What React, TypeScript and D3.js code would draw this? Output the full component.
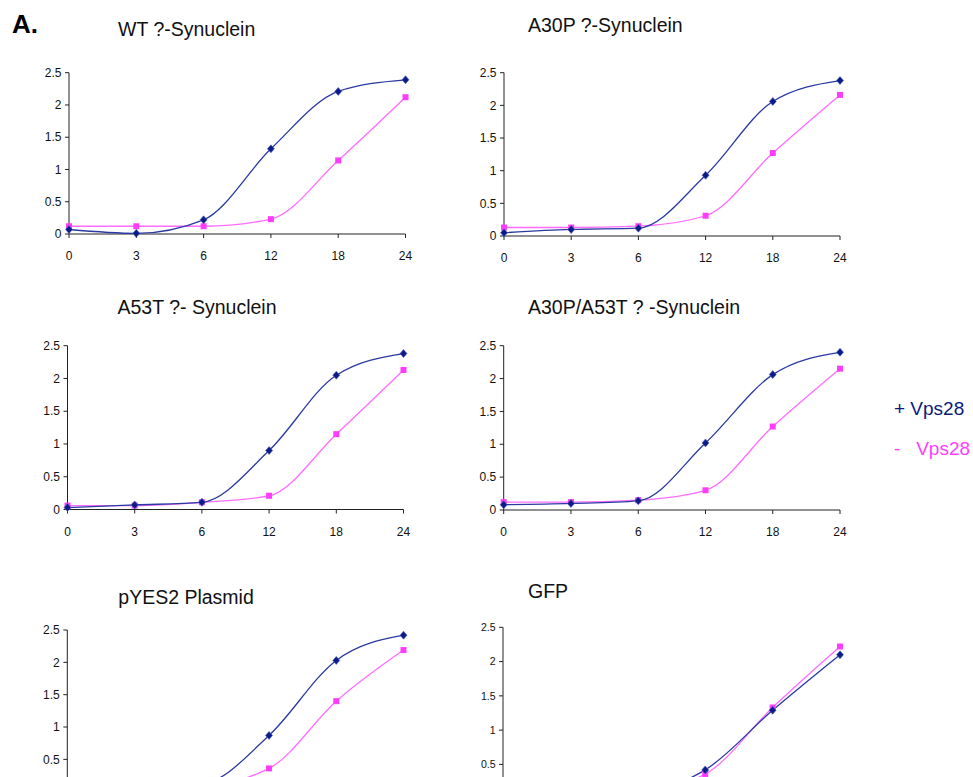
import React from "react";
import * as d3 from "d3";

// time points (h) — plotted as evenly spaced categories
const CATS = ["0", "3", "6", "12", "18", "24"];
const Y_TICKS = [0, 0.5, 1, 1.5, 2, 2.5];

// OD readings, + Vps28 / - Vps28
const WT_PLUS = [0.07, 0.01, 0.22, 1.32, 2.21, 2.39];
const WT_MINUS = [0.12, 0.12, 0.12, 0.23, 1.14, 2.12];
const A30P_PLUS = [0.05, 0.1, 0.12, 0.93, 2.06, 2.38];
const A30P_MINUS = [0.13, 0.13, 0.15, 0.31, 1.27, 2.16];
const A53T_PLUS = [0.03, 0.07, 0.11, 0.9, 2.05, 2.38];
const A53T_MINUS = [0.06, 0.06, 0.11, 0.21, 1.15, 2.13];
const DOUBLE_PLUS = [0.08, 0.1, 0.14, 1.02, 2.06, 2.4];
const DOUBLE_MINUS = [0.12, 0.12, 0.15, 0.3, 1.27, 2.15];
const PYES_PLUS = [0.08, 0.08, 0.12, 0.87, 2.03, 2.42];
const PYES_MINUS = [0.1, 0.1, 0.1, 0.36, 1.4, 2.19];
const GFP_PLUS = [0.08, 0.08, 0.1, 0.42, 1.29, 2.1];
const GFP_MINUS = [0.08, 0.08, 0.1, 0.36, 1.33, 2.22];

const NAVY_LINE = "#2a3aa2";
const NAVY_MARK = "#0c1c86";
const PINK_LINE = "#ff6cff";
const PINK_MARK = "#ff3cff";
const FONT = "'Liberation Sans', Arial, sans-serif";
const PAGE_H = 777;

// layout of the six small charts (pixel frame of each plot area)
const PANELS = [
  { title: "WT ?-Synuclein", plus: WT_PLUS, minus: WT_MINUS, left: 69, right: 405.5, top: 72.7, zero: 234, tx: 118, ty: 36, tick: 12 },
  { title: "A30P ?-Synuclein", plus: A30P_PLUS, minus: A30P_MINUS, left: 504, right: 840, top: 72.7, zero: 236, tx: 528, ty: 31.5, tick: 12 },
  { title: "A53T ?- Synuclein", plus: A53T_PLUS, minus: A53T_MINUS, left: 67.5, right: 403.5, top: 345.7, zero: 509.5, tx: 117.5, ty: 314, tick: 12 },
  { title: "A30P/A53T ? -Synuclein", plus: DOUBLE_PLUS, minus: DOUBLE_MINUS, left: 503.7, right: 840, top: 345.7, zero: 510, tx: 528, ty: 314, tick: 12 },
  { title: "pYES2 Plasmid", plus: PYES_PLUS, minus: PYES_MINUS, left: 67.3, right: 403.5, top: 630, zero: 791.7, tx: 118.3, ty: 603.5, tick: 12 },
  { title: "GFP", plus: GFP_PLUS, minus: GFP_MINUS, left: 503, right: 840, top: 627.3, zero: 798.7, tx: 528, ty: 597.5, tick: 10.5 },
];

type PanelProps = (typeof PANELS)[number];

const Panel = ({ title, plus, minus, left, right, top, zero, tx, ty, tick }: PanelProps) => {
  const x = d3.scalePoint<string>().domain(CATS).range([left, right]);
  const y = d3.scaleLinear().domain([0, 2.5]).range([zero, top]);
  const line = d3
    .line<number>()
    .x((_, i) => x(CATS[i]) as number)
    .y((v) => y(v))
    .curve(d3.curveMonotoneX);

  // bottom row runs past the page edge: skip labels that would be off the page
  const showX = zero + 26 < PAGE_H;

  return (
    <g>
      <text x={tx} y={ty} fontSize={19.5} fontFamily={FONT} fill="#111">
        {title}
      </text>
      {/* y axis */}
      <line x1={left} x2={left} y1={top} y2={zero} stroke="#222" strokeWidth={1} />
      {Y_TICKS.map((t) => (
        <g key={t}>
          <line x1={left - 4} x2={left} y1={y(t)} y2={y(t)} stroke="#222" />
          {y(t) + 6 < PAGE_H && (
            <text
              x={left - 7.5}
              y={y(t)}
              dy="0.35em"
              textAnchor="end"
              fontSize={tick}
              fontFamily={FONT}
              fill="#111"
            >
              {d3.format("")(t)}
            </text>
          )}
        </g>
      ))}
      {/* x axis */}
      <line x1={left} x2={right} y1={zero} y2={zero} stroke="#222" strokeWidth={1} />
      {CATS.map((c) => (
        <g key={c}>
          <line x1={x(c)} x2={x(c)} y1={zero} y2={zero + 4} stroke="#222" />
          {showX && (
            <text x={x(c)} y={zero + 26} textAnchor="middle" fontSize={tick} fontFamily={FONT} fill="#111">
              {c}
            </text>
          )}
        </g>
      ))}
      <path d={line(minus) || ""} fill="none" stroke={PINK_LINE} strokeWidth={1.3} />
      <path d={line(plus) || ""} fill="none" stroke={NAVY_LINE} strokeWidth={1.3} />
      {minus.map((v, i) => (
        <rect
          key={"m" + i}
          x={(x(CATS[i]) as number) - 3}
          y={y(v) - 3}
          width={6}
          height={6}
          fill={PINK_MARK}
        />
      ))}
      {plus.map((v, i) => {
        const cx = x(CATS[i]) as number;
        const cy = y(v);
        return (
          <path
            key={"p" + i}
            d={`M${cx},${cy - 4}L${cx + 3.5},${cy}L${cx},${cy + 4}L${cx - 3.5},${cy}Z`}
            fill={NAVY_MARK}
            stroke="#5060c0"
            strokeWidth={0.6}
          />
        );
      })}
    </g>
  );
};

const App = () => (
  <svg
    width={973}
    height={PAGE_H}
    style={{ position: "absolute", left: 0, top: 0, background: "#fff" }}
  >
    <rect width={973} height={PAGE_H} fill="#fff" />
    <text x={12} y={33} fontSize={26} fontWeight="bold" fontFamily={FONT} fill="#000">
      A.
    </text>
    {PANELS.map((p) => (
      <Panel key={p.title} {...p} />
    ))}
    <text x={894} y={415} fontSize={19} fontFamily={FONT} fill="#0a1a78">
      + Vps28
    </text>
    <text x={894} y={455} fontSize={19} fontFamily={FONT} fill={PINK_MARK} xmlSpace="preserve">
      {"-   Vps28"}
    </text>
  </svg>
);

export default App;
